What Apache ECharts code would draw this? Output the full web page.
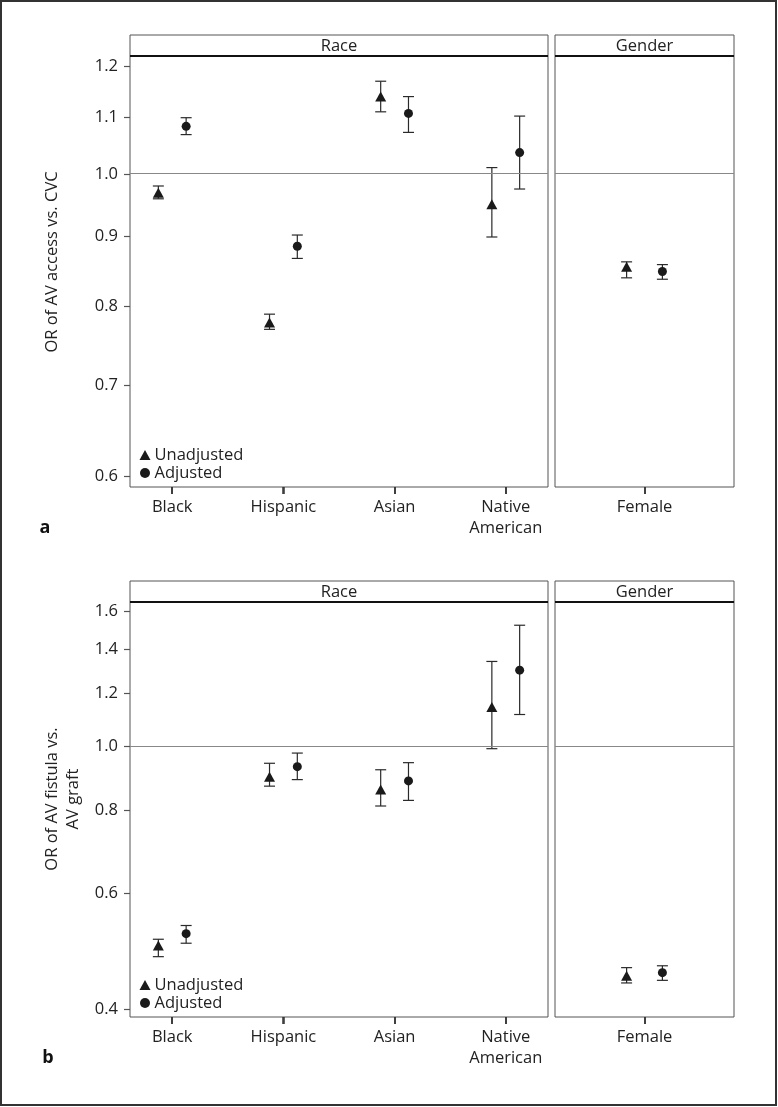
<!DOCTYPE html>
<html><head><meta charset="utf-8">
<script src="https://cdn.jsdelivr.net/npm/echarts@6/dist/echarts.min.js"></script>
<style>html,body{margin:0;padding:0;background:#fff;}#c{width:778px;height:1107px;}</style>
</head><body><div id="c"></div>
<script>
// ---------- data ----------
const raceCats = ['Black', 'Hispanic', 'Asian', 'Native\nAmerican'];
const genderCats = ['Female'];
const yTicksA = [0.6, 0.7, 0.8, 0.9, 1.0, 1.1, 1.2];
const yTicksB = [0.4, 0.6, 0.8, 1.0, 1.2, 1.4, 1.6];
const seriesNames = ['Unadjusted', 'Adjusted'];
const panelTitles = ['OR of AV access vs. CVC', 'OR of AV fistula vs.\nAV graft'];
const facetNames = ['Race', 'Gender'];

// Panel a: OR of AV access vs. CVC
const aRaceUnadj   = [0.969, 0.778, 1.140, 0.950];
const aRaceUnadjLo = [0.959, 0.769, 1.111, 0.899];
const aRaceUnadjHi = [0.980, 0.789, 1.170, 1.011];
const aRaceAdj     = [1.084, 0.885, 1.108, 1.037];
const aRaceAdjLo   = [1.069, 0.867, 1.073, 0.975];
const aRaceAdjHi   = [1.100, 0.902, 1.140, 1.103];
const aGenUnadj    = [0.855];
const aGenUnadjLo  = [0.839];
const aGenUnadjHi  = [0.862];
const aGenAdj      = [0.848];
const aGenAdjLo    = [0.837];
const aGenAdjHi    = [0.858];

// Panel b: OR of AV fistula vs. AV graft
const bRaceUnadj   = [0.500, 0.899, 0.860, 1.145];
const bRaceUnadjLo = [0.481, 0.870, 0.812, 0.991];
const bRaceUnadjHi = [0.511, 0.942, 0.921, 1.342];
const bRaceAdj     = [0.521, 0.931, 0.886, 1.302];
const bRaceAdjLo   = [0.504, 0.890, 0.828, 1.116];
const bRaceAdjHi   = [0.536, 0.976, 0.944, 1.522];
const bGenUnadj    = [0.450];
const bGenUnadjLo  = [0.439];
const bGenUnadjHi  = [0.463];
const bGenAdj      = [0.455];
const bGenAdjLo    = [0.443];
const bGenAdjHi    = [0.466];

// ---------- layout ----------
const FONT = '"Open Sans", "Noto Sans", sans-serif';
const FS = 16.5;
const TXT = '#222';
const BORDER = '#555';
const yRangeA = [0.589, 1.221];
const yRangeB = [0.39, 1.65];
// log scale, measured from the bottom of each panel's range
const toY = (v, r) => Math.log(v) - Math.log(r[0]);
const fromY = (y, r) => Math.exp(y + Math.log(r[0]));
const grids = [
  { left: 130, top: 56, width: 418, height: 431 },
  { left: 555, top: 56, width: 179, height: 431 },
  { left: 130, top: 602, width: 418, height: 415 },
  { left: 555, top: 602, width: 179, height: 415 }
];
const raceX = [0.62, 4.38], genX = [0.5, 1.5];
const dodgeRace = 0.125, dodgeGen = 0.1;

const xAxes = [], yAxes = [], series = [], xTickVals = [];
function addX(gi, cats, range) {
  const vals = cats.map((_, i) => i + 1);
  xTickVals[gi] = vals;
  xAxes.push({
    type: 'value', gridIndex: gi, min: range[0], max: range[1],
    splitLine: { show: false },
    axisLine: { show: false },
    axisTick: { show: true, customValues: vals, length: 7, lineStyle: { color: '#333', width: 1.5 } },
    axisLabel: { show: true, customValues: vals, margin: 10, color: TXT, fontFamily: FONT, fontSize: FS, lineHeight: 21,
      formatter: v => cats[Math.round(v) - 1] || '' }
  });
}
function addY(gi, range, ticks, showLabels) {
  const vals = ticks.map(t => toY(t, range));
  yAxes.push({
    type: 'value', gridIndex: gi, min: 0, max: toY(range[1], range),
    splitLine: { show: false },
    axisLine: { show: false },
    axisTick: { show: showLabels, customValues: vals, length: 6, lineStyle: { color: BORDER, width: 1.2 } },
    axisLabel: { show: showLabels, customValues: vals, margin: 12, color: TXT, fontFamily: FONT, fontSize: FS,
      formatter: v => fromY(v, range).toFixed(1) }
  });
}
addX(0, raceCats, raceX); addY(0, yRangeA, yTicksA, true);
addX(1, genderCats, genX); addY(1, yRangeA, yTicksA, false);
addX(2, raceCats, raceX); addY(2, yRangeB, yTicksB, true);
addX(3, genderCats, genX); addY(3, yRangeB, yTicksB, false);

function errSeries(gi, r, pts, lo, hi, dodge) {
  const data = pts.map((_, i) => [i + 1 + dodge, toY(lo[i], r), toY(hi[i], r)]);
  return {
    type: 'custom', xAxisIndex: gi, yAxisIndex: gi, silent: true, z: 2,
    data: data,
    encode: { x: 0, y: [1, 2] },
    renderItem: function (params, api) {
      const p1 = api.coord([api.value(0), api.value(1)]);
      const p2 = api.coord([api.value(0), api.value(2)]);
      const hw = 5.5;
      const st = { stroke: '#2a2a2a', lineWidth: 1.2 };
      return { type: 'group', children: [
        { type: 'line', shape: { x1: p1[0], y1: p1[1], x2: p2[0], y2: p2[1] }, style: st },
        { type: 'line', shape: { x1: p1[0] - hw, y1: p1[1], x2: p1[0] + hw, y2: p1[1] }, style: st },
        { type: 'line', shape: { x1: p2[0] - hw, y1: p2[1], x2: p2[0] + hw, y2: p2[1] }, style: st }
      ]};
    }
  };
}
function ptSeries(gi, r, name, pts, dodge, symbol, size, withRef) {
  const s = {
    type: 'scatter', name: name, xAxisIndex: gi, yAxisIndex: gi, z: 3,
    symbol: symbol, symbolSize: size,
    itemStyle: { color: '#1a1a1a', opacity: 1 },
    data: pts.map((v, i) => [i + 1 + dodge, toY(v, r)])
  };
  if (withRef) {
    s.markLine = { silent: true, symbol: 'none', label: { show: false },
      lineStyle: { color: '#888', width: 1.2, type: 'solid' },
      data: [{ yAxis: toY(1, r) }] };
  }
  return s;
}
const sets = [
  [0, yRangeA, aRaceUnadj, aRaceUnadjLo, aRaceUnadjHi, aRaceAdj, aRaceAdjLo, aRaceAdjHi, dodgeRace],
  [1, yRangeA, aGenUnadj, aGenUnadjLo, aGenUnadjHi, aGenAdj, aGenAdjLo, aGenAdjHi, dodgeGen],
  [2, yRangeB, bRaceUnadj, bRaceUnadjLo, bRaceUnadjHi, bRaceAdj, bRaceAdjLo, bRaceAdjHi, dodgeRace],
  [3, yRangeB, bGenUnadj, bGenUnadjLo, bGenUnadjHi, bGenAdj, bGenAdjLo, bGenAdjHi, dodgeGen]
];
sets.forEach(s => {
  const [gi, r, u, ulo, uhi, a, alo, ahi, d] = s;
  series.push(errSeries(gi, r, u, ulo, uhi, -d));
  series.push(errSeries(gi, r, a, alo, ahi, d));
  series.push(ptSeries(gi, r, seriesNames[0], u, -d, 'triangle', [11, 10], true));
  series.push(ptSeries(gi, r, seriesNames[1], a, d, 'circle', 9, false));
});

// ---------- graphics: strips, titles, frame ----------
const graphic = [];
graphic.push({ type: 'rect', shape: { x: 1, y: 1, width: 775, height: 1104 },
  style: { fill: 'none', stroke: '#333', lineWidth: 2 }, z: 100, silent: true });
grids.forEach((g, i) => {
  const top = g.top - 21;
  graphic.push({ type: 'rect', shape: { x: g.left, y: top, width: g.width, height: 21 },
    style: { fill: '#fff', stroke: BORDER, lineWidth: 1 }, z: 50, silent: true });
  graphic.push({ type: 'line', shape: { x1: g.left, y1: g.top, x2: g.left + g.width, y2: g.top },
    style: { stroke: '#111', lineWidth: 2.2 }, z: 51, silent: true });
  graphic.push({ type: 'text', x: g.left + g.width / 2, y: top + 11, z: 52, silent: true,
    style: { text: facetNames[i % 2], fill: TXT, font: FS + 'px ' + FONT, textAlign: 'center', textVerticalAlign: 'middle' } });
});
graphic.push({ type: 'text', x: 52, y: 262, rotation: Math.PI / 2, z: 52, silent: true,
  style: { text: panelTitles[0], fill: TXT, font: FS + 'px ' + FONT, textAlign: 'center', textVerticalAlign: 'middle' } });
graphic.push({ type: 'text', x: 62.5, y: 799, rotation: Math.PI / 2, z: 52, silent: true,
  style: { text: panelTitles[1], fill: TXT, font: FS + 'px ' + FONT, lineHeight: 21, textAlign: 'center', textVerticalAlign: 'middle' } });
graphic.push({ type: 'text', x: 45, y: 528, z: 52, silent: true,
  style: { text: 'a', fill: '#111', font: 'bold 18px ' + FONT, textAlign: 'center', textVerticalAlign: 'middle' } });
graphic.push({ type: 'text', x: 48, y: 1058, z: 52, silent: true,
  style: { text: 'b', fill: '#111', font: 'bold 18px ' + FONT, textAlign: 'center', textVerticalAlign: 'middle' } });

const legendBase = {
  orient: 'vertical', padding: 0, itemGap: 0, itemWidth: 11, itemHeight: 10,
  selectedMode: false,
  textStyle: { color: TXT, fontFamily: FONT, fontSize: FS, lineHeight: 18, padding: [0, 0, 0, -1] },
  data: [{ name: seriesNames[0], icon: 'triangle' }, { name: seriesNames[1], icon: 'circle' }]
};

const chart = echarts.init(document.getElementById('c'), null, { renderer: 'canvas' });
chart.setOption({
  backgroundColor: '#fff',
  animation: false,
  grid: grids.map(g => Object.assign({ show: true, borderColor: BORDER, borderWidth: 1, backgroundColor: 'transparent', containLabel: false }, g)),
  xAxis: xAxes,
  yAxis: yAxes,
  legend: [
    Object.assign({}, legendBase, { left: 139.5, top: 446 }),
    Object.assign({}, legendBase, { left: 139.5, top: 976 })
  ],
  graphic: graphic,
  series: series
});

// x-axis tick marks placed through the axes' own scales
const tickGraphics = [];
xTickVals.forEach((vals, gi) => {
  vals.forEach(v => {
    const p = chart.convertToPixel({ gridIndex: gi }, [v, 0]);
    if (p && isFinite(p[0]) && isFinite(p[1])) {
      tickGraphics.push({ type: 'rect', z: 200, silent: true,
        shape: { x: Math.round(p[0]) - 0.75, y: p[1], width: 1.5, height: 7 },
        style: { fill: '#333', stroke: 'none' } });
    }
  });
});
chart.setOption({ graphic: graphic.concat(tickGraphics) });
</script></body></html>
